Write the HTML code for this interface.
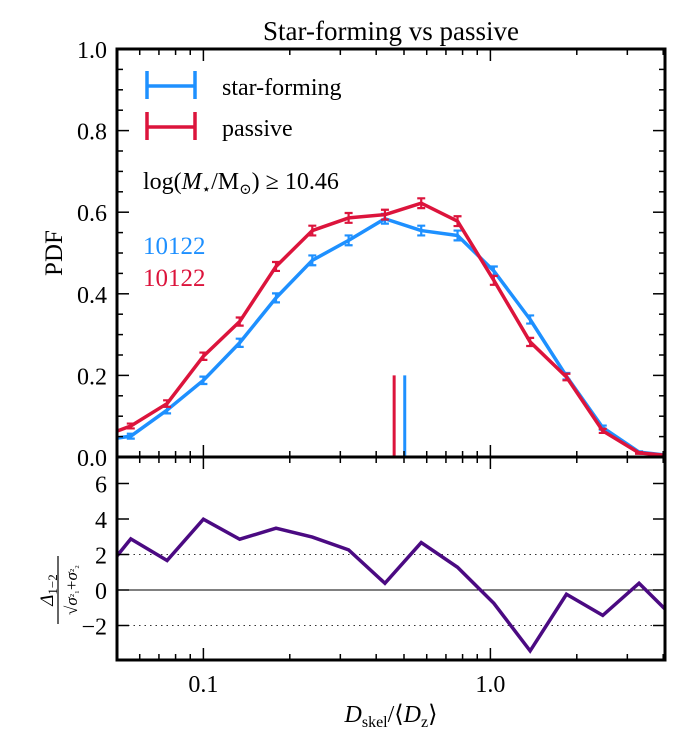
<!DOCTYPE html>
<html><head><meta charset="utf-8"><style>
body{margin:0;background:#fff}
svg text{font-family:"Liberation Serif","DejaVu Serif",serif;fill:#000}
</style></head><body>
<svg id="c" width="698" height="737" viewBox="0 0 698 737" xmlns="http://www.w3.org/2000/svg">
<defs>
<clipPath id="cpTop"><rect x="117" y="49" width="548" height="408"/></clipPath>
<clipPath id="cpBot"><rect x="117" y="457" width="548" height="203"/></clipPath>
</defs>
<g id="gtop"></g>
<g id="gbot"></g>
<text x="391" y="40" font-size="27" text-anchor="middle">Star-forming vs passive</text>
<text x="0" y="0" font-size="25" text-anchor="middle" transform="translate(62,253) rotate(-90)">PDF</text>
<g transform="translate(58,590) rotate(-90)">
<text x="0" y="-5" font-size="19" text-anchor="middle"><tspan font-style="italic">Δ</tspan><tspan font-size="13" dy="4">1−2</tspan></text>
<line x1="-34" y1="0" x2="34" y2="0" stroke="#000" stroke-width="1.2"/>
<text x="0" y="19" font-size="17" text-anchor="middle">√<tspan font-style="italic">σ</tspan><tspan font-size="11">²₁</tspan>+<tspan font-style="italic">σ</tspan><tspan font-size="11">²₂</tspan></text>
</g>
<text x="391" y="722" font-size="24" text-anchor="middle"><tspan font-style="italic">D</tspan><tspan font-size="16" dy="5">skel</tspan><tspan dy="-5">/⟨</tspan><tspan font-style="italic">D</tspan><tspan font-size="16" dy="5">z</tspan><tspan dy="-5">⟩</tspan></text>
<g>
<g>
<path d="M147 71V99M195 71V99M147 86H195" stroke="#1E90FF" stroke-width="3.5" fill="none"/>
<text x="222" y="95" font-size="24">star-forming</text></g>
<g>
<path d="M147 112V140M195 112V140M147 127H195" stroke="#DC143C" stroke-width="3.5" fill="none"/>
<text x="222" y="136" font-size="24">passive</text></g>
</g>
<text x="143" y="189" font-size="24">log(<tspan font-style="italic">M</tspan><tspan font-size="15" dy="5">⋆</tspan><tspan dy="-5">/M</tspan><tspan font-size="15" dy="5">⊙</tspan><tspan dy="-5">) ≥ 10.46</tspan></text>
<text x="143" y="254" font-size="25" style="fill:#1E90FF">10122</text>
<text x="143" y="286" font-size="25" style="fill:#DC143C">10122</text>
</svg>
<script>
const logX = [-1.3795,-1.253,-1.1265,-1,-0.8735,-0.747,-0.6205,-0.494,-0.3675,-0.241,-0.1145,0.012,0.1385,0.265,0.3915,0.518,0.6445];
const sfPdf = [0.039,0.051,0.115,0.188,0.280,0.390,0.482,0.531,0.584,0.555,0.543,0.456,0.337,0.198,0.072,0.012,0.002];
const pasPdf = [0.043,0.076,0.131,0.247,0.332,0.467,0.555,0.586,0.594,0.622,0.578,0.433,0.282,0.196,0.064,0.010,0.002];
const sfErr = [0.006,0.006,0.008,0.009,0.010,0.011,0.012,0.012,0.012,0.012,0.012,0.011,0.010,0.008,0.005,0.002,0.001];
const pasErr = [0.006,0.006,0.008,0.009,0.010,0.011,0.012,0.012,0.012,0.012,0.012,0.011,0.010,0.008,0.005,0.002,0.001];
const delta = [0.35,2.88,1.66,3.99,2.86,3.48,2.98,2.26,0.38,2.67,1.28,-0.75,-3.43,-0.24,-1.43,0.38,-1.65];
const medians = [0.503,0.462];
const xTickLabels = ["0.1","1.0"];
const yTopTicks = [0,0.2,0.4,0.6,0.8,1.0];
const yBotTicks = [-2,0,2,4,6];
{
const NS="http://www.w3.org/2000/svg";
const X0=117,X1=665,LMIN=Math.log10(0.05),LMAX=LMIN+548/287;
const xs=l=>X0+(l-LMIN)*287;
const yt=v=>457-v*408;
const yb=v=>590-v*17.75;
function mk(par,tag,at){const e=document.createElementNS(NS,tag);for(const k in at)e.setAttribute(k,at[k]);par.appendChild(e);return e;}
const gTop=document.getElementById('gtop'),gBot=document.getElementById('gbot'),svgEl=document.getElementById('c');
const gT=mk(gTop,'g',{'clip-path':'url(#cpTop)'});
[[sfPdf,sfErr,'#1E90FF','star-forming'],[pasPdf,pasErr,'#DC143C','passive']].forEach(([v,er,col,nm])=>{
  const p=mk(gT,'polyline',{points:v.map((d,i)=>xs(logX[i])+','+yt(d)).join(' '),fill:'none',stroke:col,'stroke-width':3.5,'stroke-linejoin':'round'});
  
  
  v.forEach((d,i)=>{const x=xs(logX[i]);
    const e=mk(gT,'path',{d:`M${x} ${yt(d-er[i])}V${yt(d+er[i])}M${x-4} ${yt(d-er[i])}H${x+4}M${x-4} ${yt(d+er[i])}H${x+4}`,stroke:col,'stroke-width':2.2,fill:'none'});
    
    });
});
[['#1E90FF',medians[0],'median-star-forming'],['#DC143C',medians[1],'median-passive']].forEach(([c,m,n])=>{
  const x=xs(Math.log10(m));
  const l=mk(gT,'line',{x1:x,x2:x,y1:yt(0.2),y2:457,stroke:c,'stroke-width':3});
  
  
});
const gB=mk(gBot,'g',{'clip-path':'url(#cpBot)'});
[2,-2].forEach(v=>mk(gB,'line',{x1:X0,x2:X1,y1:yb(v),y2:yb(v),stroke:'#333','stroke-width':1,'stroke-dasharray':'1.5,4'}));
mk(gB,'line',{x1:X0,x2:X1,y1:yb(0),y2:yb(0),stroke:'#000','stroke-width':1});
const dl=mk(gB,'polyline',{points:delta.map((d,i)=>xs(logX[i])+','+yb(d)).join(' '),fill:'none',stroke:'#4B0A82','stroke-width':3.5,'stroke-linejoin':'miter'});


[[49,457],[457,660]].forEach(([a,b])=>mk(svgEl,'rect',{x:X0,y:a,width:X1-X0,height:b-a,fill:'none',stroke:'#000','stroke-width':3}));
const gx=mk(gBot,'g',{});
for(let dec=-2;dec<=0;dec++)for(let m=1;m<=9;m++){const l=dec+Math.log10(m);if(l<LMIN-1e-6||l>LMAX)continue;const x=xs(l);const len=m==1?12:6;
 [[49,1],[457,-1],[457,1],[660,-1]].forEach(([y,s])=>mk(gx,'line',{x1:x,x2:x,y1:y,y2:y+s*len,stroke:'#000','stroke-width':1.5}));}
xTickLabels.forEach((t,i)=>{const tx=mk(gx,'text',{x:xs(-1+i),y:692,'font-size':24,'text-anchor':'middle'});tx.textContent=t;
 
 });
for(let v=0;v<=1.0001;v+=0.05){const y=yt(v);const mj=Math.abs(v/0.2-Math.round(v/0.2))<1e-6;const len=mj?12:6;
 mk(gTop,'line',{x1:X0,x2:X0+len,y1:y,y2:y,stroke:'#000','stroke-width':1.5});mk(gTop,'line',{x1:X1,x2:X1-len,y1:y,y2:y,stroke:'#000','stroke-width':1.5});}
yTopTicks.forEach(v=>{const t=mk(gTop,'text',{x:107,y:yt(v)+9,'font-size':24,'text-anchor':'end'});t.textContent=v.toFixed(1);
 
 });
yBotTicks.forEach(v=>{const y=yb(v);mk(gBot,'line',{x1:X0,x2:X0+12,y1:y,y2:y,stroke:'#000','stroke-width':1.5});mk(gBot,'line',{x1:X1,x2:X1-12,y1:y,y2:y,stroke:'#000','stroke-width':1.5});
 const t=mk(gBot,'text',{x:107,y:y+9,'font-size':24,'text-anchor':'end'});t.textContent=v<0?'−'+(-v):String(v);
 
 });
}
</script>
</body></html>
